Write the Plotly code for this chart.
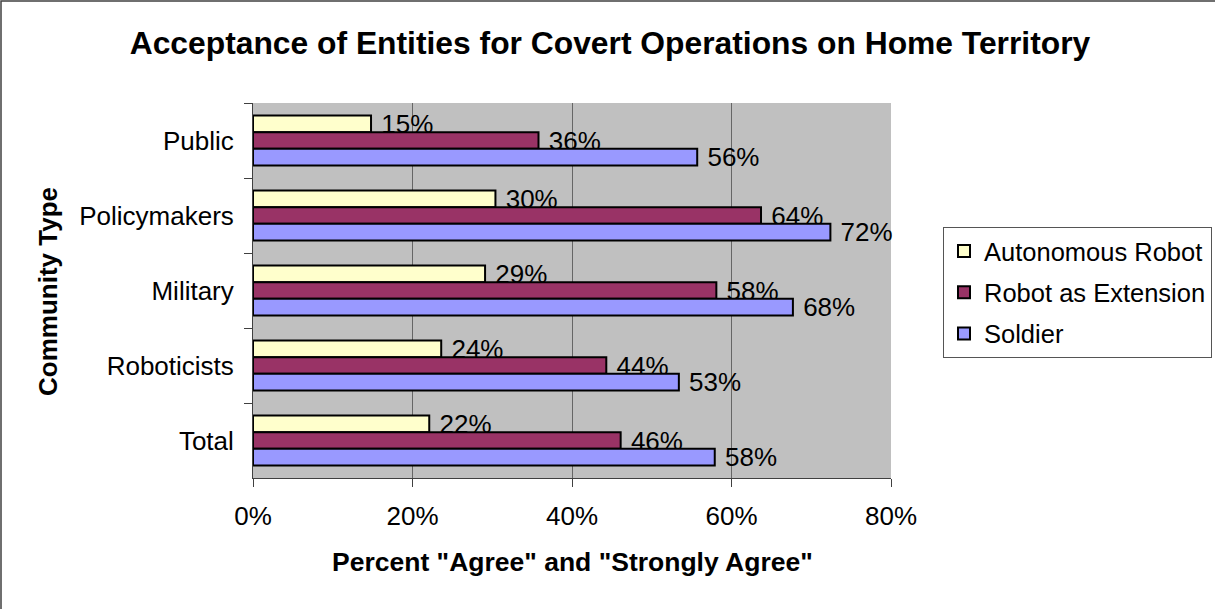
import plotly.graph_objects as go

categories = ["Public", "Policymakers", "Military", "Roboticists", "Total"]
series_names = ["Autonomous Robot", "Robot as Extension", "Soldier"]
autonomous = [14.8, 30.4, 29.1, 23.6, 22.1]
extension = [35.8, 63.7, 58.1, 44.3, 46.1]
soldier = [55.7, 72.4, 67.7, 53.4, 57.9]
colors = ["#FFFFCC", "#993366", "#9999FF"]
x_ticks = [0, 20, 40, 60, 80]
x_tick_labels = ["0%", "20%", "40%", "60%", "80%"]

W, H = 1215, 609
L, R, T, B = 253, 324, 103, 131
pw, ph = W - L - R, H - T - B

FONT = "Liberation Sans, Arial, sans-serif"

fig = go.Figure()
for i, (name, vals, col) in enumerate(zip(series_names, [autonomous, extension, soldier], colors)):
    fig.add_trace(go.Bar(
        y=categories, x=vals, name=name, orientation="h",
        legendgroup=f"g{i}",
        marker=dict(color=col, line=dict(color="black", width=2)),
        texttemplate=" %{x:.0f}%", textposition="outside",
        constraintext="none", cliponaxis=False,
        textfont=dict(family=FONT, size=26, color="black"),
    ))

def px_x(p):
    return (p - L) / pw

def px_y(p):
    return (H - B - p) / ph

fig.update_layout(
    width=W, height=H, autosize=False,
    margin=dict(l=L, r=R, t=T, b=B, pad=0, autoexpand=False),
    paper_bgcolor="white", plot_bgcolor="#C0C0C0",
    barmode="group", bargap=1/3, bargroupgap=0,
    font=dict(family=FONT, size=26, color="black"),
    showlegend=True,
    title=dict(text="<b>Acceptance of Entities for Covert Operations on Home Territory</b>",
               x=px_x(610), xref="paper", xanchor="center",
               y=1 - 43 / H, yref="container", yanchor="middle",
               font=dict(family=FONT, size=31.8, color="black")),
    legend=dict(x=px_x(943), y=px_y(227), xanchor="left", yanchor="top",
                bgcolor="white", bordercolor="#555555", borderwidth=1,
                font=dict(family=FONT, size=25.5, color="black"),
                traceorder="grouped", tracegroupgap=5, itemclick=False),
    xaxis=dict(range=[0, 80], tickvals=x_ticks, ticktext=x_tick_labels,
               showgrid=True, gridcolor="#666666", gridwidth=1,
               zeroline=False, showline=True, linecolor="#404040", linewidth=1,
               ticks="outside", ticklen=8, tickcolor="#404040",
               ticklabelstandoff=7,
               tickfont=dict(family=FONT, size=26, color="black"), fixedrange=True),
    yaxis=dict(autorange="reversed", type="category",
               showgrid=False, zeroline=False, showline=True, linecolor="#404040", linewidth=1,
               ticks="outside", ticklen=8, tickcolor="#404040", tickson="boundaries",
               ticklabelstandoff=13,
               tickfont=dict(family=FONT, size=26, color="black"), fixedrange=True),
    annotations=[
        dict(text="<b>Percent \"Agree\" and \"Strongly Agree\"</b>", xref="paper", yref="paper",
             x=0.5, y=px_y(562), xanchor="center", yanchor="middle", showarrow=False,
             font=dict(family=FONT, size=26.5, color="black")),
        dict(text="<b>Community Type</b>", xref="paper", yref="paper",
             x=px_x(48), y=px_y(292), xanchor="center", yanchor="middle", showarrow=False,
             textangle=-90, font=dict(family=FONT, size=26, color="black")),
    ],
    shapes=[dict(type="rect", xref="paper", yref="paper",
                 x0=px_x(1), y0=px_y(H + 5), x1=px_x(W + 5), y1=px_y(1),
                 line=dict(color="#404040", width=1.5), layer="below")],
)

fig.write_html(
    "out.html",
    config={"responsive": False, "displayModeBar": False},
    post_script=(
        "document.documentElement.style.margin='0';"
        "document.documentElement.style.overflow='hidden';"
        "document.body.style.margin='0';"
        "document.body.style.padding='0';"
        "document.body.style.overflow='hidden';"
    ),
)
